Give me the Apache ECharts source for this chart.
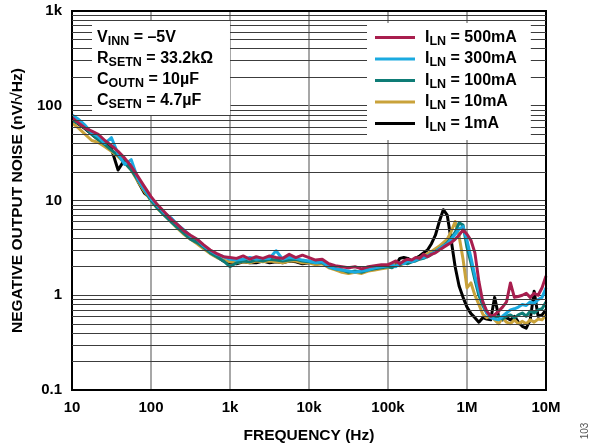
<!DOCTYPE html>
<html><head><meta charset="utf-8">
<script src="https://cdn.jsdelivr.net/npm/echarts@6/dist/echarts.min.js"></script>
<style>html,body{margin:0;padding:0;background:#fff}#c{width:598px;height:446px}</style>
</head><body><div id="c"></div>
<script>
// Frequency points (Hz)
const freq = [
  10, 12.1, 14.7, 17.8, 21.5, 26.1, 31.6, 38.3, 46.4, 56.2, 68.1, 82.5,
  100, 121, 147, 178, 215, 261, 316, 383, 464, 562, 681, 825,
  1000, 1210, 1470, 1780, 2150, 2610, 3160, 3830, 4640, 5620, 6810, 8250,
  10000, 12100, 14700, 17800, 21500, 26100, 31600, 38300, 46400, 56200, 68100, 82500,
  100000, 112200, 125900, 141300, 158500, 177800, 199500, 223900, 251200, 281800,
  316200, 354800, 398100, 446700, 501200, 562300, 631000, 707900, 794300, 891300,
  1000000, 1122000, 1259000, 1413000, 1585000, 1778000, 1995000, 2239000, 2512000, 2818000,
  3162000, 3548000, 3981000, 4467000, 5012000, 5623000, 6310000, 7079000, 7943000, 8913000,
  10000000
];
// Noise (nV/√Hz)
const noise500mA = [
  75, 66, 58, 54, 50, 43, 38, 33, 28, 23, 18, 14,
  11, 9.0, 7.6, 6.4, 5.6, 4.8, 4.3, 3.9, 3.4, 3.0, 2.75, 2.55,
  2.5, 2.45, 2.6, 2.4, 2.55, 2.45, 2.6, 2.5, 2.45, 2.7, 2.5, 2.65,
  2.5, 2.35, 2.4, 2.15, 2.05, 2.0, 1.95, 2.0, 1.9, 2.0, 2.05, 2.1,
  2.1, 2.2, 2.3, 2.15, 2.3, 2.4, 2.35, 2.5, 2.45, 2.7,
  2.55, 2.7, 2.8, 3.0, 3.2, 3.4, 3.6, 3.9, 4.3, 4.9,
  4.4, 3.8, 2.8, 1.4, 0.85, 0.68, 0.6, 0.62, 0.68, 0.75,
  0.85, 1.35, 0.95, 0.97, 1.0, 1.05, 0.95, 1.05, 1.0, 1.2,
  1.6
];
const noise300mA = [
  80, 72, 62, 52, 47, 40, 46, 31, 24, 27, 17, 13,
  10.5, 8.8, 7.4, 6.6, 5.6, 4.9, 4.2, 3.9, 3.3, 2.95, 2.7, 2.55,
  2.4, 2.35, 2.4, 2.5, 2.4, 2.45, 2.45, 2.95, 2.4, 2.5, 2.45, 2.35,
  2.3, 2.2, 2.25, 2.0, 1.9, 1.85, 1.8, 1.75, 1.8, 1.85, 1.95, 2.0,
  2.05, 2.1, 2.0, 2.2, 2.15, 2.3, 2.25, 2.35, 2.45, 2.5,
  2.6, 2.75, 2.85, 3.1, 3.3, 3.5, 3.9, 4.4, 5.0, 5.3,
  3.8, 2.5, 1.6, 1.1, 0.85, 0.65, 0.58, 0.56, 0.55, 0.6,
  0.65, 0.7, 0.72, 0.75, 0.8, 0.78, 0.85, 0.82, 0.9, 0.95,
  1.2
];
const noise100mA = [
  70, 65, 58, 50, 44, 39, 34, 30, 25, 21, 16.5, 13,
  10, 8.3, 7.0, 6.0, 5.2, 4.5, 3.9, 3.6, 3.2, 2.8, 2.55, 2.3,
  2.0, 2.2, 2.3, 2.25, 2.35, 2.3, 2.4, 2.35, 2.3, 2.35, 2.4, 2.3,
  2.25, 2.2, 2.2, 2.0, 1.9, 1.85, 1.75, 1.8, 1.75, 1.85, 1.9, 1.95,
  2.0, 1.95, 2.05, 2.1, 2.2, 2.15, 2.25, 2.3, 2.4, 2.45,
  2.55, 2.7, 2.9, 3.1, 3.3, 3.6, 4.0, 4.6, 5.8, 5.5,
  3.2, 2.2, 1.45, 1.0, 0.78, 0.65, 0.6, 0.58, 0.6, 0.56,
  0.6, 0.62, 0.58, 0.62, 0.65, 0.6, 0.68, 0.65, 0.7, 0.72,
  0.85
];
const noise10mA = [
  66, 58, 50, 43, 41, 37, 33, 29, 25, 21, 16, 12.5,
  10, 8.2, 7.0, 6.0, 5.1, 4.4, 3.9, 3.5, 3.1, 2.75, 2.5, 2.35,
  2.25, 2.2, 2.25, 2.2, 2.3, 2.25, 2.3, 2.25, 2.2, 2.3, 2.3, 2.2,
  2.2, 2.1, 2.15, 1.95, 1.85, 1.75, 1.7, 1.75, 1.7, 1.8, 1.85, 1.9,
  1.95, 2.0, 2.1, 2.05, 2.2, 2.25, 2.3, 2.4, 2.5, 2.6,
  2.75, 2.9, 3.1, 3.3, 3.6, 3.9, 4.7, 6.0, 4.2, 2.4,
  1.2, 1.35, 1.0, 0.8, 0.63, 0.58, 0.6, 0.55, 0.5, 0.58,
  0.52, 0.5, 0.55, 0.5, 0.53, 0.5, 0.55, 0.52, 0.56, 0.55,
  0.62
];
const noise1mA = [
  72, 64, 57, 50, 44, 40, 35, 21, 27, 23, 16, 12,
  10.5, 8.4, 7.2, 6.5, 5.2, 4.6, 4.0, 3.6, 3.2, 2.8, 2.55, 2.3,
  2.2, 2.15, 2.25, 2.2, 2.2, 2.3, 2.2, 2.25, 2.2, 2.3, 2.25, 2.15,
  2.2, 2.25, 2.2, 2.0, 1.9, 1.8, 1.75, 1.75, 1.8, 1.85, 1.9, 2.0,
  2.0, 2.05, 2.1, 2.45, 2.5, 2.45, 2.3, 2.45, 2.6, 2.8,
  3.0, 3.5, 4.3, 6.0, 8.0, 7.0, 3.8, 2.0, 1.25, 0.95,
  0.75, 0.64, 0.58, 0.52, 0.58, 0.56, 0.55, 0.95, 0.6, 0.55,
  0.58, 0.55, 0.6, 0.52, 0.47, 0.45, 0.55, 1.1, 0.6, 0.62,
  0.7
];
const seriesNames = ['500mA', '300mA', '100mA', '10mA', '1mA'];
const xTickLabels = ['10', '100', '1k', '10k', '100k', '1M', '10M'];
const yTickLabels = ['0.1', '1', '10', '100', '1k'];
const yMinorGrid = [0.2, 0.3, 0.4, 0.5, 0.6, 0.7, 0.8, 0.9,
  2, 3, 4, 5, 6, 7, 8, 9, 20, 30, 40, 50, 60, 70, 80, 90,
  200, 300, 400, 500, 600, 700, 800, 900];

const FONT = '"Liberation Sans", Arial, Helvetica, sans-serif';
const colors = {'500mA': '#A81E4E', '300mA': '#1AAAE0', '100mA': '#0E7C76', '10mA': '#C9A23A', '1mA': '#000000'};
const dataMap = {'500mA': noise500mA, '300mA': noise300mA, '100mA': noise100mA, '10mA': noise10mA, '1mA': noise1mA};

const richBase = {
  n: {fontFamily: FONT, fontWeight: 'bold', fontSize: 16, color: '#000', lineHeight: 16},
  s: {fontFamily: FONT, fontWeight: 'bold', fontSize: 12.5, color: '#000', lineHeight: 16, padding: [8, 0, 0, 0]},
  n0: {fontFamily: FONT, fontWeight: 'bold', fontSize: 16, color: '#000', lineHeight: 16, padding: [0, 0, 0, 5]}
};
const richNote = {
  n: {fontFamily: FONT, fontWeight: 'bold', fontSize: 16, color: '#000', lineHeight: 21},
  s: {fontFamily: FONT, fontWeight: 'bold', fontSize: 12.5, color: '#000', lineHeight: 21, padding: [8, 0, 0, 0]}
};

const drawOrder = ['1mA', '10mA', '100mA', '300mA', '500mA'];
const series = drawOrder.map(name => ({
  name: name,
  type: 'line',
  showSymbol: false,
  symbol: 'none',
  silent: true,
  z: 3,
  lineStyle: {color: colors[name], width: 3, join: 'round'},
  itemStyle: {color: colors[name]},
  data: freq.map((f, i) => [f, dataMap[name][i]])
}));
series.unshift({
  name: 'minorGrid',
  type: 'line',
  data: [],
  z: 1,
  silent: true,
  markLine: {
    silent: true,
    symbol: ['none', 'none'],
    label: {show: false},
    animation: false,
    lineStyle: {type: 'solid', color: '#3c3c3c', width: 1},
    emphasis: {disabled: true},
    data: yMinorGrid.map(v => ({yAxis: v}))
  }
});

const chart = echarts.init(document.getElementById('c'), null, {renderer: 'canvas'});
chart.setOption({
  animation: false,
  backgroundColor: '#fff',
  grid: {left: 72, right: 52, top: 11, bottom: 56, show: true, borderColor: '#000', borderWidth: 2,
    backgroundColor: 'transparent', z: 5, containLabel: false, outerBoundsMode: 'none'},
  xAxis: {
    type: 'log', logBase: 10, min: 10, max: 10000000,
    name: 'FREQUENCY (Hz)', nameLocation: 'middle', nameGap: 38,
    nameTextStyle: {fontFamily: FONT, fontWeight: 'bold', fontSize: 15.5, color: '#000'},
    axisLine: {show: false},
    axisTick: {show: false},
    axisLabel: {fontFamily: FONT, fontWeight: 'bold', fontSize: 15, color: '#000', margin: 10,
      alignMinLabel: 'center', alignMaxLabel: 'center',
      formatter: v => xTickLabels[Math.round(Math.log10(v)) - 1]},
    splitLine: {show: true, lineStyle: {color: '#8a8a8a', width: 1.5}},
    minorTick: {show: false}, minorSplitLine: {show: false}
  },
  yAxis: {
    type: 'log', logBase: 10, min: 0.1, max: 1000,
    name: 'NEGATIVE OUTPUT NOISE (nV/\u221AHz)', nameLocation: 'middle', nameGap: 46, nameRotate: 90,
    nameTextStyle: {fontFamily: FONT, fontWeight: 'bold', fontSize: 15.5, color: '#000'},
    axisLine: {show: false},
    axisTick: {show: false},
    axisLabel: {fontFamily: FONT, fontWeight: 'bold', fontSize: 15, color: '#000', margin: 10,
      verticalAlignMinLabel: 'middle', verticalAlignMaxLabel: 'middle',
      formatter: v => yTickLabels[Math.round(Math.log10(v)) + 1]},
    splitLine: {show: true, lineStyle: {color: '#3c3c3c', width: 1}}
  },
  title: {
    left: 92, top: 21,
    backgroundColor: '#fff',
    padding: [6, 17, 4, 5],
    z: 6,
    text: '{n|V}{s|INN}{n| = \u20135V}\n{n|R}{s|SETN}{n| = 33.2k\u03A9}\n{n|C}{s|OUTN}{n| = 10\u00B5F}\n{n|C}{s|SETN}{n| = 4.7\u00B5F}',
    textStyle: {rich: richNote, lineHeight: 21}
  },
  legend: {
    data: seriesNames,
    orient: 'vertical',
    left: 367, top: 23,
    backgroundColor: '#fff',
    padding: [4, 14, 6, 8],
    itemGap: 0.5,
    itemWidth: 40, itemHeight: 3,
    icon: 'rect',
    selectedMode: false,
    z: 6,
    formatter: name => '{n0|I}{s|LN}{n| = ' + name + '}',
    textStyle: {rich: richBase}
  },
  graphic: [{
    type: 'text', x: 585, y: 431, rotation: Math.PI / 2,
    style: {text: '103', fontFamily: FONT, fontSize: 10, fill: '#555', align: 'center', verticalAlign: 'middle'}
  }],
  series: series
});
</script>
</body></html>
